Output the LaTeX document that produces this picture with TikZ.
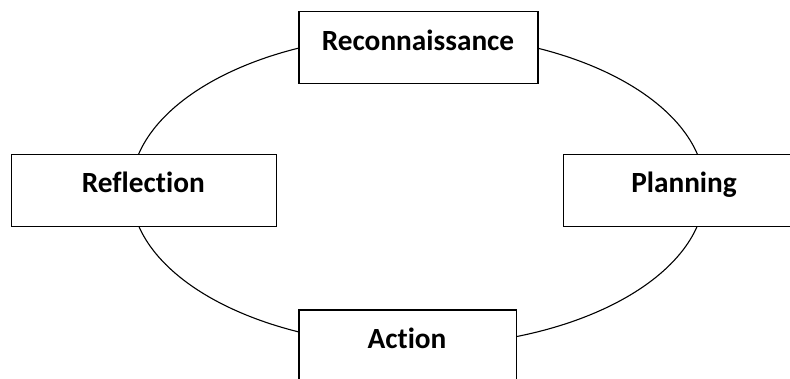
\documentclass[tikz,border=0pt]{standalone}
\usepackage{fontspec}
\setmainfont{Carlito}[Ligatures=NoCommon]
\begin{document}
\begin{tikzpicture}[x=1pt,y=-1pt,
  box/.style={draw, line width=1.4pt, fill=white, rectangle, inner sep=0pt, anchor=north west},
  lbl/.style={font=\fontsize{29.3}{35}\selectfont\bfseries, anchor=base, inner sep=0pt}]
\useasboundingbox (0,0) rectangle (790,378);
\clip (0,0) rectangle (790,378);
\draw[line width=1.1pt] (418,190) ellipse [x radius=287, y radius=156];
\node[box, minimum width=239pt, minimum height=71.7pt] (rec) at (298.3,11) {};
\node[box, minimum width=264.7pt, minimum height=71.7pt] (ref) at (11,154) {};
\node[box, minimum width=242pt, minimum height=71.7pt] (pla) at (562.7,154) {};
\node[box, minimum width=217.4pt, minimum height=80pt] (act) at (298.3,309.3) {};
\node[lbl] (recl) at (418,50) {Reconnaissance};
\node[lbl] (refl) at (143.3,192.7) {Reflection};
\node[lbl] (plal) at (684,192.7) {Planning};
\node[lbl] (actl) at (407,348.3) {Action};
\end{tikzpicture}
\end{document}
